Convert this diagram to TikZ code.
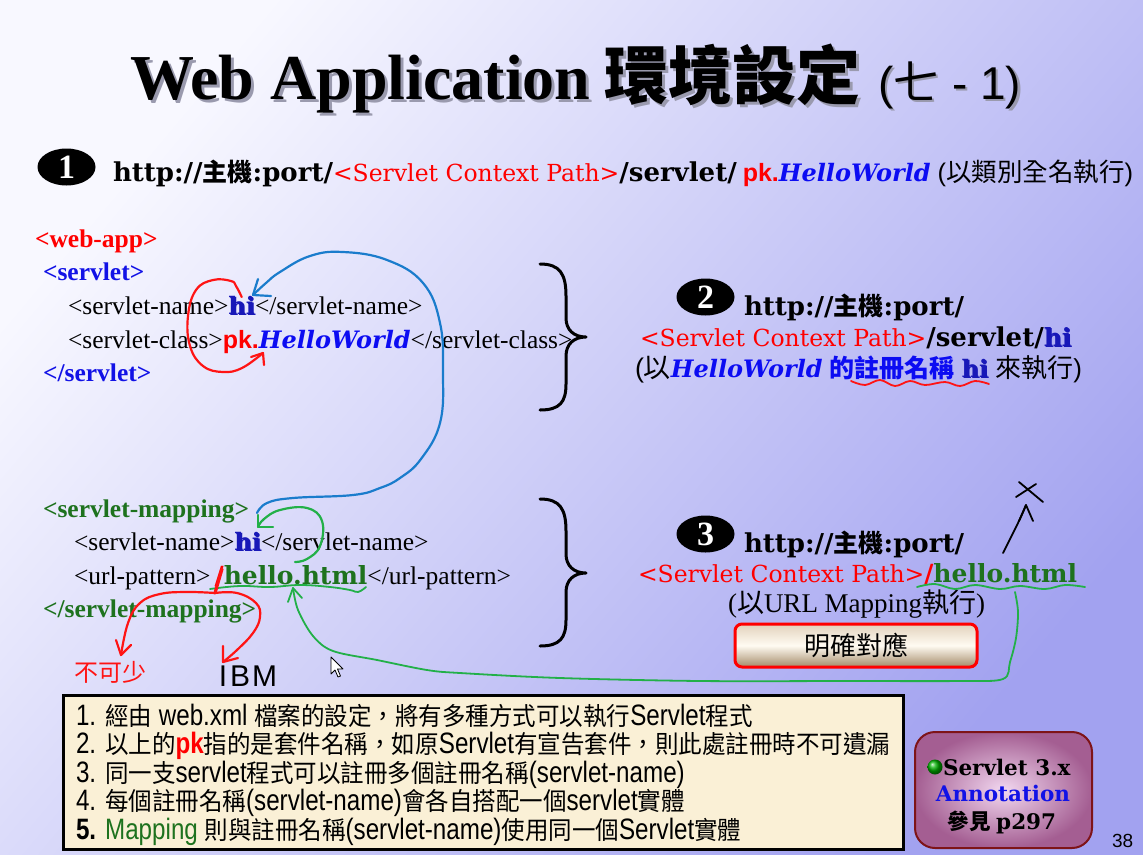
\documentclass[tikz,border=0pt]{standalone}
\usepackage{fontspec}
\setmainfont{Liberation Serif}
\newfontfamily\cjk{Noto Sans CJK TC}
\newfontfamily\cjknarrow{Noto Sans CJK TC}[FakeStretch=0.94]
\newfontfamily\slab{DejaVu Serif}
\newfontfamily\arial{Liberation Sans}
\newfontfamily\narrow{Liberation Sans}[FakeStretch=0.82]
\usetikzlibrary{shapes.geometric}

\newcommand\fsz[1]{\fontsize{#1}{#1}\selectfont}
% text with a soft offset copy behind it
\newcommand\shadowed[3]{\rlap{\kern#2\raisebox{-#2}{\color{#1}#3}}#3}

\definecolor{pagetop}{HTML}{F8F8FF}
\definecolor{pagebot}{HTML}{A2A2F0}
\definecolor{titleshadow}{HTML}{9A9AAE}
\definecolor{hiblue}{HTML}{1818B8}
\definecolor{hihalo}{HTML}{8C9CF0}
\definecolor{hwblue}{HTML}{0C0CF2}
\definecolor{xmlblue}{HTML}{1212E6}
\definecolor{xmlgreen}{HTML}{1E721E}
\definecolor{penblue}{HTML}{1A7CCC}
\definecolor{penred}{HTML}{FF1414}
\definecolor{pengreen}{HTML}{22B048}
\definecolor{notefill}{HTML}{FAF0D6}
\definecolor{annoedge}{HTML}{7E1418}
\definecolor{annoin}{HTML}{F2D8F0}
\definecolor{annoout}{HTML}{A45E92}
\definecolor{btntop}{HTML}{E2D2BC}
\definecolor{btnmid}{HTML}{FFFBF2}
\definecolor{btnbot}{HTML}{A48A68}

% fonts of the pieces of the URLs and code
\newcommand\ub{\slab\bfseries\fsz{26}}
\newcommand\uc{\cjk\bfseries\fsz{25}}
\newcommand\cp[1]{{\slab\fsz{23.5}\color{red}#1}}
\newcommand\pkw{{\arial\bfseries\fsz{25}\color{red}pk.}}
\newcommand\hw{{\slab\bfseries\itshape\fsz{24}\color{hwblue}HelloWorld}}
\newcommand\hiw{{\slab\bfseries\fsz{24}\shadowed{hihalo}{1.2pt}{\color{hiblue}hi}}}
\newcommand\hello{{\slab\bfseries\fsz{25}{\color{red}/}\color{xmlgreen}hello.html}}
\newcommand\httpline{{\ub http://}{\uc 主機}{\ub :port/}}
\newcommand\nL{\narrow\fsz{29.5}}
\newcommand\nC{\cjknarrow\fsz{25}}

\tikzset{
  txt/.style={anchor=base west, inner sep=0pt, outer sep=0pt},
  numdisc/.style={ellipse, fill=black, minimum width=58pt, minimum height=37pt,
    inner sep=0pt, text=white, font=\bfseries\fsz{34}},
  pen/.style={line width=2.2pt, line cap=round, line join=round},
  brace/.style={line width=3pt, line cap=round, line join=round},
  codeline/.style={txt, font=\fsz{25.5}},
  noteline/.style={txt},
}

\begin{document}
\begin{tikzpicture}[x=1pt,y=-1pt]
\useasboundingbox (0,0) rectangle (1143,854);
\shade[top color=pagetop, bottom color=pagebot, shading angle=50] (0,0) rectangle (1143,854);

% ---- title
\node[txt] (ttl) at (130,99) {\fsz{64}\bfseries\shadowed{titleshadow}{3pt}{Web Application}};
\node[txt] (ttlc) at (604,99) {\cjk\bfseries\fsz{64}\shadowed{titleshadow}{3pt}{環境設定}};
\node[txt] (ttln) at (878,99) {\arial\fsz{46}\shadowed{titleshadow}{2.5pt}{(\cjk 七\arial{} - 1)}};

% ---- way 1: full class name
\node[numdisc] (n1) at (66.5,167) {1};
\node[txt] (u1) at (113,181) {\httpline\cp{<Servlet Context Path>}{\ub /servlet/}\hspace{6pt}\pkw\hw\hspace{7pt}%
  {\arial\fsz{25.5}(\cjk 以類別全名執行\arial)}};

% ---- servlet declaration
\node[codeline] (webapp) at (35,247) {\bfseries\color{red}<web-app>};
\node[codeline] (sv) at (43,280) {\bfseries\color{xmlblue}<servlet>};
\node[codeline] (svname) at (68,314) {<servlet-name>\hiw</servlet-name>};
\node[codeline] (svclass) at (68,348) {<servlet-class>\pkw\hw</servlet-class>};
\node[codeline] (svend) at (43,381) {\bfseries\color{xmlblue}</servlet>};

% ---- servlet mapping
\node[codeline] (map) at (43,517) {\bfseries\color{xmlgreen}<servlet-mapping>};
\node[codeline] (mapname) at (74,550) {<servlet-name>\hiw</servlet-name>};
\node[codeline] (mapurl) at (74,584) {<url-pattern>\,\hello</url-pattern>};
\node[codeline] (mapend) at (43,617) {\bfseries\color{xmlgreen}</servlet-mapping>};

% ---- braces
\coordinate (b1t) at (540,264);
\coordinate (b1b) at (540,410);
\draw[brace] (b1t) .. controls (560,264) and (566,274) .. (566,296) -- (566,318)
  .. controls (566,330) and (574,337) .. (586,337)
  .. controls (574,337) and (566,344) .. (566,356) -- (566,384)
  .. controls (566,402) and (560,410) .. (b1b);
\coordinate (b2t) at (540,499);
\coordinate (b2b) at (540,646);
\draw[brace] (b2t) .. controls (560,499) and (566,509) .. (566,531) -- (566,554)
  .. controls (566,566) and (574,573) .. (586,573)
  .. controls (574,573) and (566,580) .. (566,592) -- (566,620)
  .. controls (566,638) and (560,646) .. (b2b);

% ---- way 2: registered name
\node[numdisc] (n2) at (705.5,297) {2};
\node[txt] (u2) at (744,315) {\httpline};
\node[txt] (p2) at (640,346) {\cp{<Servlet Context Path>}{\ub /servlet/}{\slab\bfseries\fsz{25}\shadowed{hihalo}{1.2pt}{\color{hiblue}hi}}};
\node[txt] (e2) at (635,377) {{\arial\fsz{27}(\cjk 以}\hw\hspace{7pt}{\cjk\bfseries\fsz{25}\color{hwblue}的註冊名稱}\hspace{7pt}\hiw\hspace{7pt}{\cjk\fsz{26}來執行\arial)}};

% ---- way 3: URL mapping
\node[numdisc] (n3) at (705.5,534) {3};
\node[txt] (u3) at (744,552) {\httpline};
\node[txt] (p3) at (638,582) {\cp{<Servlet Context Path>}\hello};
\node[txt] (e3) at (728,612) {\fsz{27}(\cjk 以\rmfamily URL Mapping\cjk 執行\rmfamily)};
\node[draw=red, line width=3pt, rounded corners=7pt, top color=btntop, bottom color=btnbot,
  middle color=btnmid, minimum width=242pt, minimum height=43pt, inner sep=0pt]
  (btn) at (856,645.5) {\cjk\fsz{26}明確對應};

% ---- notes
\node[draw=black, line width=2.6pt, fill=notefill, minimum width=840pt, minimum height=154pt,
  anchor=north west, inner sep=0pt] (notes) at (62,694) {};
\node[noteline] (l1) at (76,725) {{\nL 1. }{\nC 經由}{\nL\ web.xml }{\nC 檔案的設定，將有多種方式可以執行}{\nL Servlet}{\nC 程式}};
\node[noteline] (l2) at (76,753) {{\nL 2. }{\nC 以上的}{\nL\bfseries\color{red}pk}{\nC 指的是套件名稱，如原}{\nL Servlet}{\nC 有宣告套件，則此處註冊時不可遺漏}};
\node[noteline] (l3) at (76,782) {{\nL 3. }{\nC 同一支}{\nL servlet}{\nC 程式可以註冊多個註冊名稱}{\nL (servlet-name)}};
\node[noteline] (l4) at (76,810) {{\nL 4. }{\nC 每個註冊名稱}{\nL (servlet-name)}{\nC 會各自搭配一個}{\nL servlet}{\nC 實體}};
\node[noteline] (l5) at (76,839) {{\nL\bfseries 5. }{\nL\color{xmlgreen}Mapping }{\nC 則與註冊名稱}{\nL (servlet-name)}{\nC 使用同一個}{\nL Servlet}{\nC 實體}};

% ---- annotation card
\node[draw=annoedge, line width=2pt, rounded corners=20pt, inner color=annoin, outer color=annoout,
  minimum width=177pt, minimum height=116pt, inner sep=0pt] (anno) at (1003.5,790) {};
\node[circle, ball color=green!70!black, minimum size=15pt, inner sep=0pt] (ball) at (935,767) {};
\node[txt] (a1) at (943,775) {\slab\bfseries\fsz{21.5}Servlet 3.x};
\node[anchor=base, inner sep=0pt] (a2) at (1003,801) {\slab\bfseries\fsz{21.5}\color{xmlblue}Annotation};
\node[anchor=base, inner sep=0pt] (a3) at (1002,829) {\bfseries\fsz{21.5}{\cjk 參見} {\slab p297}};
\node[txt] (pg) at (1112,847) {\arial\fsz{19}38};

% ---- pen marks: red loop from hi to the class
\coordinate (rl0) at (241.7,297);
\coordinate (rl1) at (263,353);
\draw[pen, penred] plot[smooth, tension=0.7] coordinates {(rl0) (236,286) (231,281) (213,280) (196,290)
  (188,316) (190,346) (203,366) (223,372) (242,368) (rl1)};
\draw[pen, penred] (251,357) -- (rl1) -- (264,365);

% blue: mapping name back to the declared name
\coordinate (bl0) at (253,295);
\coordinate (bl1) at (257,513);
\draw[pen, penblue] plot[smooth, tension=0.7] coordinates {(bl0) (266,283) (280,272) (310,256) (343,252)
  (387,260) (423,283) (440,323) (443,373) (440,423) (421,459) (400,478) (380,488) (353,495)
  (293,498) (267,503) (bl1)};
\draw[pen, penblue] (258,279) -- (bl0) -- (271,296);

% green: url pattern to its name
\coordinate (gs0) at (258,527);
\coordinate (gs1) at (295,562);
\draw[pen, pengreen] plot[smooth, tension=0.7] coordinates {(gs0) (264,519) (280,510) (307,508)
  (322,521) (320,546) (307,559) (gs1)};
\draw[pen, pengreen] (258,515) -- (gs0) -- (273,527);
\draw[pen, pengreen, line width=1.8pt] plot[smooth, tension=0.7] coordinates {(210,589) (240,586)
  (270,587) (300,585) (330,587) (350,590) (358,592) (366,587)};

% red: the leading slash
\coordinate (rs) at (215,593);
\coordinate (rt1) at (121,655);
\coordinate (rt2) at (223,662);
\draw[pen, penred, line width=3.2pt] (rs) -- (222,569);
\draw[pen, penred] plot[smooth, tension=0.7] coordinates {(rs) (187,592) (160,594) (140,603)
  (128,623) (rt1)};
\draw[pen, penred] (116,640) -- (rt1) -- (131,645);
\draw[pen, penred] plot[smooth, tension=0.7] coordinates {(rs) (237,593) (256,603) (260,617)
  (253,633) (237,650) (rt2)};
\draw[pen, penred] (223,646) -- (rt2) -- (238,658);
\node (bks) at (110,672) {\cjk\fsz{24}\color{penred}不可少};
\node (ibm) at (248,676) {\arial\fsz{30}I\kern3pt B\kern2pt M};

% green: URL of way 3 down to the pattern
\coordinate (gl0) at (293,588);
\coordinate (gl1) at (1015,592);
\draw[pen, pengreen, line width=1.8pt] plot[smooth, tension=0.55] coordinates {(gl0) (298,610) (313,636)
  (333,651) (377,660) (427,670) (460,673) (560,678) (700,681) (850,681) (960,681)
  (1003,679) (1010,662) (1016,638) (1018,612) (gl1)};
\draw[pen, pengreen, line width=1.8pt] (288,602) -- (gl0) -- (302,598);
\draw[pen, pengreen, line width=1.8pt] plot[smooth, tension=0.6] coordinates {(917,587) (935,584)
  (955,589) (975,585) (1000,589) (1020,586) (1045,589) (1065,585) (1085,587)};

% red wave under the registered name
\draw[pen, penred, line width=1.8pt] plot[smooth, tension=0.6] coordinates {(851,381) (865,385)
  (880,380) (895,386) (910,381) (925,385) (945,382) (960,386) (975,381) (989,384)};

% black: crossed-out arrow
\coordinate (xa0) at (1003,553);
\coordinate (xa1) at (1026,505);
\draw[pen, black, line width=1.8pt] (xa0) .. controls (1012,535) and (1020,520) .. (xa1);
\draw[pen, black, line width=1.8pt] (1019,521) -- (xa1) -- (1033,521);
\draw[pen, black, line width=1.8pt] (1019,482) -- (1043,502);
\draw[pen, black, line width=1.8pt] (1036,484) -- (1016,497);

% mouse pointer
\draw[fill=white, line width=0.8pt, line join=round] (331,657) -- ++(0,17) -- ++(4,-4)
  -- ++(3,7) -- ++(2.5,-1) -- ++(-3,-7) -- ++(5.5,0) -- cycle;
\end{tikzpicture}
\end{document}
